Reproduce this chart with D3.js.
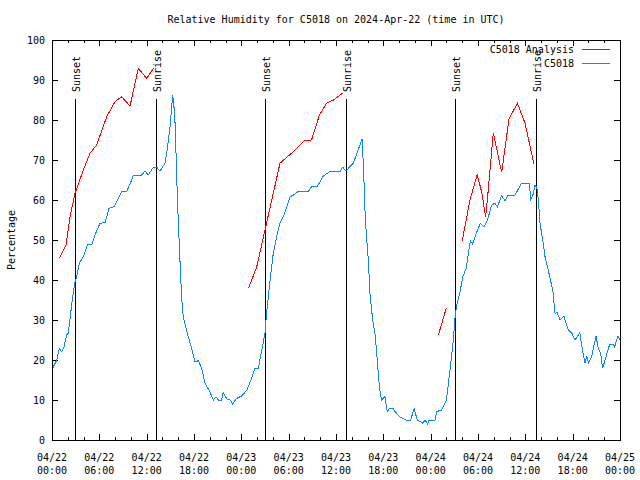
<!DOCTYPE html>
<html><head><meta charset="utf-8">
<script src="https://cdn.jsdelivr.net/npm/d3@7"></script>
<style>
body{margin:0;background:#fff;}
text{font-family:"DejaVu Sans Mono",monospace;font-size:10px;fill:#000;}
</style></head>
<body>
<svg id="chart" width="640" height="480"></svg>
<script>
// hours since 2024-04-22 00:00 UTC
const stationTimes = [0.08,0.6,0.93,1.23,1.52,1.86,2.07,2.37,2.62,2.92,3.13,3.46,3.97,4.48,5.1,5.45,6.08,6.72,7.23,7.86,8.83,9.47,10.1,10.3,11.37,11.79,12.2,12.85,13.27,13.69,14.32,14.6,14.96,15.3,15.46,15.63,15.8,15.97,16.2,16.42,16.64,16.94,17.28,17.7,18.13,18.55,18.98,19.4,20.0,20.45,20.8,21.08,21.5,21.7,22.2,22.6,22.9,23.4,24.05,24.7,25.3,25.7,26.15,26.6,27.0,27.2,27.6,28.05,28.48,28.9,29.3,29.5,30.17,30.6,31.2,32.5,32.9,33.6,34.4,35.2,36.5,36.85,37.27,37.7,38.2,38.8,39.3,39.5,39.7,39.9,40.1,40.3,40.65,40.94,41.16,41.5,41.77,42.2,42.5,42.76,43.26,43.48,44.1,44.87,45.47,45.9,46.3,47.0,47.3,47.6,47.8,48.55,48.76,49.4,50.0,50.45,50.87,51.1,51.3,51.7,52.06,52.5,52.9,53.05,53.3,53.7,54.3,54.76,55.2,55.73,56.15,56.45,57.0,57.42,57.84,58.7,59.5,60.5,60.7,61.0,61.2,61.45,61.65,61.86,62.2,62.5,62.8,63.1,63.5,63.76,64.05,64.4,64.9,65.15,65.45,65.9,66.3,66.9,67.27,67.56,67.8,68.0,68.4,68.96,69.25,69.55,69.8,70.1,70.7,71.1,71.3,71.75,72.0];
const stationValues = [17.9,20,22.9,22.1,23.3,26.25,26.7,31.7,35.8,39.6,40.8,44.2,45.8,48.75,49,51.25,54.2,54.3,57.9,58.3,62.1,62.1,65,66.25,66.25,67.25,66.25,68.2,68.2,67.25,69.2,72.5,78.3,86.25,83.3,78.3,66,56.7,45.8,36,30.8,28.3,25.8,22.9,19.6,19.8,17.9,14.2,12.1,10,10.8,10,10,11.8,10.2,10,9,10.4,11,12.5,15.4,17.9,17.9,22.5,26.7,31.7,39.2,46.7,50.8,54.2,55.8,56.7,60.8,61.25,62.1,62.1,63.3,63.3,66,67.1,67.1,68.2,67.25,68.2,69.2,72.5,75.2,67.5,55.8,50,45,36.7,30,26.7,21.7,13.3,10,10.8,7.1,7.9,7.9,7.1,5.8,5,5,7.9,5,4.2,5,4,5,5,7.1,7.5,10,17.5,25,30.8,33.75,36.7,40.8,42.9,48.3,49.75,49,51.25,54.2,53.3,55,58.75,59.2,58.3,61.1,59.8,61.25,61.25,64.2,64.2,60.2,61.5,63.6,63.3,60,54.2,50,45.8,43.3,40.8,37.1,31.7,31.8,30,31,29.2,27.5,26.7,25,26.8,22.1,19.2,21,19.2,20.8,26,22.9,21.7,17.9,20,24,24,23.2,26,25];

// null = gap in the analysis series
const analysisTimes = [0.93,1.77,2.28,2.92,3.97,4.82,5.66,6.93,7.99,8.83,9.89,10.94,12.0,12.85,18,24.9,25.95,27.0,28.05,28.9,30.1,30.6,31.94,32.9,33.9,34.8,35.7,36.9,42,48.98,50.0,51,52.0,52.98,53.9,54.5,54.97,55.3,55.94,57.0,57.93,59.0,59.96,61.1];
const analysisValues = [45.4,48.75,55.8,61.7,67.5,71.7,73.75,80.8,84.6,85.8,83.5,92.9,90.4,92.9,null,37.9,43.3,52.5,61.7,69.2,71.25,72.1,74.8,75,81.25,84.2,85,86.8,null,26.25,33.1,null,49.75,60,66.4,61.7,55.7,62.5,76.8,66.9,80.25,84.2,79.2,68.9];

const sunTimes = [2.92,13.18,27.04,37.3,51.12,61.31];
const sunLabels = ["Sunset","Sunrise","Sunset","Sunrise","Sunset","Sunrise"];

const xTickHours = [0,6,12,18,24,30,36,42,48,54,60,66,72];
const xTickDates = ["04/22","04/22","04/22","04/22","04/23","04/23","04/23","04/23","04/24","04/24","04/24","04/24","04/25"];
const xTickTimes = ["00:00","06:00","12:00","18:00","00:00","06:00","12:00","18:00","00:00","06:00","12:00","18:00","00:00"];
const yTicks = [0,10,20,30,40,50,60,70,80,90,100];

const seriesNames = ["C5018 Analysis","C5018"];
const seriesColors = ["#ff0000","#0a84ff"];

const L=52,R=620,T=40,B=440;
const svg = d3.select("#chart");
const x = d3.scaleLinear().domain([0,72]).range([L,R]);
const y = d3.scaleLinear().domain([0,100]).range([B,T]);

// title
svg.append("text").attr("x",(L+R)/2).attr("y",23).attr("text-anchor","middle")
  .text("Relative Humidity for C5018 on 2024-Apr-22 (time in UTC)");

// y label
svg.append("text").attr("transform","translate(15,240) rotate(-90)").attr("text-anchor","middle").text("Percentage");

const g = svg.append("g").attr("shape-rendering","crispEdges");

// y ticks (left and mirrored right)
yTicks.forEach(v=>{
  const yy = Math.round(y(v))+0.5;
  g.append("line").attr("x1",L).attr("x2",L+6).attr("y1",yy).attr("y2",yy).attr("stroke","#000");
  g.append("line").attr("x1",R-6).attr("x2",R).attr("y1",yy).attr("y2",yy).attr("stroke","#000");
  svg.append("text").attr("x",45).attr("y",y(v)+4).attr("text-anchor","end").text(v);
});

// x ticks: minor every 2 h, major every 6 h
d3.range(0,73,2).forEach(h=>{
  const xx = Math.round(x(h))+0.5;
  const len = (h%6===0)?6:3;
  g.append("line").attr("x1",xx).attr("x2",xx).attr("y1",B).attr("y2",B-len).attr("stroke","#000");
  g.append("line").attr("x1",xx).attr("x2",xx).attr("y1",T).attr("y2",T+len).attr("stroke","#000");
});
xTickHours.forEach((h,i)=>{
  svg.append("text").attr("x",x(h)).attr("y",461).attr("text-anchor","middle").text(xTickDates[i]);
  svg.append("text").attr("x",x(h)).attr("y",474).attr("text-anchor","middle").text(xTickTimes[i]);
});

// sunrise/sunset lines
sunTimes.forEach((h,i)=>{
  const xx = Math.round(x(h))+0.5;
  g.append("line").attr("x1",xx).attr("x2",xx).attr("y1",99).attr("y2",B).attr("stroke","#000");
  svg.append("text").attr("transform",`translate(${xx+4},92) rotate(-90)`).attr("text-anchor","start").text(sunLabels[i]);
});

// series
const line = d3.line().defined(d=>d[1]!==null).x(d=>x(d[0])).y(d=>y(d[1]));
const analysis = analysisTimes.map((t,i)=>[t,analysisValues[i]]);
const station = stationTimes.map((t,i)=>[t,stationValues[i]]);
g.append("path").datum(analysis).attr("d",line).attr("fill","none").attr("stroke",seriesColors[0]).attr("stroke-width",1);
g.append("path").datum(station).attr("d",line).attr("fill","none").attr("stroke",seriesColors[1]).attr("stroke-width",1);

// border
g.append("rect").attr("x",L+0.5).attr("y",T+0.5).attr("width",R-L).attr("height",B-T).attr("fill","none").attr("stroke","#000");

// legend
seriesNames.forEach((n,i)=>{
  const ly = 49+i*13.5;
  svg.append("text").attr("x",574).attr("y",ly+4).attr("text-anchor","end").text(n);
  g.append("line").attr("x1",582).attr("x2",610).attr("y1",Math.round(ly)+0.5).attr("y2",Math.round(ly)+0.5).attr("stroke",seriesColors[i]);
});
</script>
</body></html>
